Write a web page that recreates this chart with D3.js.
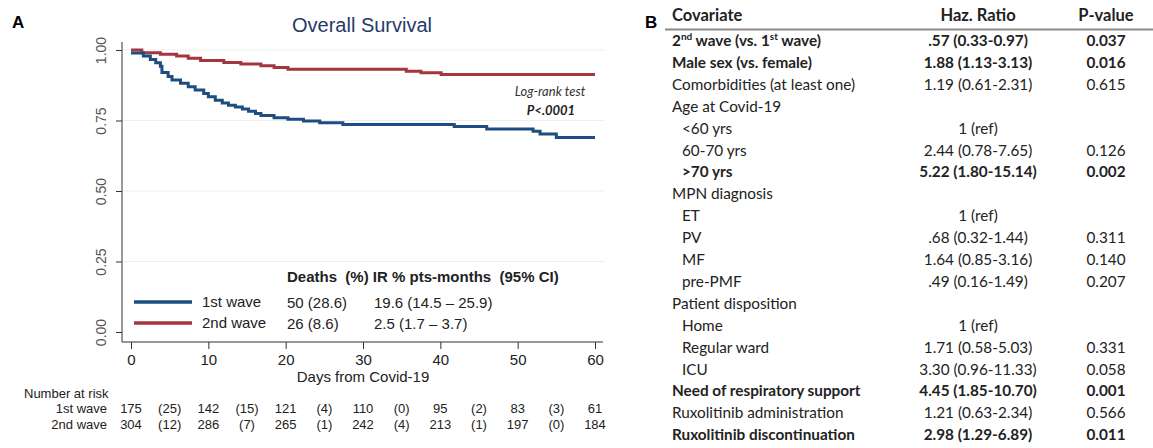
<!DOCTYPE html>
<html>
<head>
<meta charset="utf-8">
<script src="https://cdn.jsdelivr.net/npm/d3@7"></script>
<style>
  body { margin: 0; background: #fff; }
  svg { display: block; }
</style>
</head>
<body>
<div id="chart"></div>
<script>
// Overall survival (Kaplan-Meier) by wave + Cox model table

// survival steps: [day, survival after step]
const wave1Steps = [
    [0, 0.989], [1.6, 0.979], [2.5, 0.966], [3.2, 0.955], [3.8, 0.942], [4.0, 0.920],
    [4.8, 0.906], [5.3, 0.894], [6.4, 0.882], [7.4, 0.870], [8.3, 0.858], [9.4, 0.846],
    [10.0, 0.834], [10.9, 0.822], [11.8, 0.812], [12.6, 0.804], [13.5, 0.798], [14.4, 0.791],
    [15.2, 0.783], [16.1, 0.775], [16.8, 0.768], [18.5, 0.760], [20.3, 0.754], [22.3, 0.748],
    [24.4, 0.742], [27.4, 0.736], [41.8, 0.729], [46.0, 0.720], [52.0, 0.712], [52.9, 0.702],
    [55.0, 0.690], [60, 0.690]
];
const wave2Steps = [
    [0, 1.0], [1.4, 0.990], [3.8, 0.985], [5.9, 0.979], [7.4, 0.971], [9.0, 0.963],
    [12.0, 0.956], [14.2, 0.950], [16.8, 0.944], [18.5, 0.938], [20.3, 0.932], [35.6, 0.925],
    [37.5, 0.919], [40.1, 0.913], [60, 0.913]
];

const dayTicks = [0, 10, 20, 30, 40, 50, 60];
const survTicks = [0, 0.25, 0.5, 0.75, 1];

const waveNames = ['1st wave', '2nd wave'];
const waveDeaths = ['50 (28.6)', '26 (8.6)'];
const waveIR = ['19.6 (14.5 \u2013 25.9)', '2.5 (1.7 \u2013 3.7)'];

const atRiskWave1 = [175, 142, 121, 110, 95, 83, 61];
const eventsWave1 = [25, 15, 4, 0, 2, 3];
const atRiskWave2 = [304, 286, 265, 242, 213, 197, 184];
const eventsWave2 = [12, 7, 1, 4, 1, 0];

// Cox table
const covariates = [
    '2^nd wave (vs. 1^st wave)', 'Male sex (vs. female)', 'Comorbidities (at least one)',
    'Age at Covid-19', '<60 yrs', '60-70 yrs', '>70 yrs',
    'MPN diagnosis', 'ET', 'PV', 'MF', 'pre-PMF',
    'Patient disposition', 'Home', 'Regular ward', 'ICU',
    'Need of respiratory support', 'Ruxolitinib administration', 'Ruxolitinib discontinuation'
];
const covariateLevel = [0, 0, 0, 0, 1, 1, 1, 0, 1, 1, 1, 1, 0, 1, 1, 1, 0, 0, 0];
const hazRatios = [
    '.57 (0.33-0.97)', '1.88 (1.13-3.13)', '1.19 (0.61-2.31)',
    '', '1 (ref)', '2.44 (0.78-7.65)', '5.22 (1.80-15.14)',
    '', '1 (ref)', '.68 (0.32-1.44)', '1.64 (0.85-3.16)', '.49 (0.16-1.49)',
    '', '1 (ref)', '1.71 (0.58-5.03)', '3.30 (0.96-11.33)',
    '4.45 (1.85-10.70)', '1.21 (0.63-2.34)', '2.98 (1.29-6.89)'
];
const pValues = [
    '0.037', '0.016', '0.615', '', '', '0.126', '0.002',
    '', '', '0.311', '0.140', '0.207',
    '', '', '0.331', '0.058', '0.001', '0.566', '0.011'
];

const width = 1153, height = 448;
const blue = '#1d4e7f', red = '#a3363e';
const statFont = '"Liberation Sans", Arial, sans-serif';
const tableFont = 'Lato, "Open Sans", sans-serif';

const svg = d3.select('#chart').append('svg')
    .attr('width', width)
    .attr('height', height)
    .style('background', '#fff');

// ---------- Panel A ----------
const x = d3.scaleLinear().domain([0, 60]).range([131, 595]);
const y = d3.scaleLinear().domain([0, 1]).range([332, 50]);
const axisLeftX = 122, axisBottomY = 342;

svg.append('text')
    .attr('x', 12).attr('y', 28)
    .style('font-family', statFont).style('font-weight', 700).style('font-size', '17px')
    .text('A');

svg.append('text')
    .attr('x', 362).attr('y', 32)
    .attr('text-anchor', 'middle')
    .style('font-family', statFont).style('font-size', '20px')
    .style('fill', '#283a68')
    .text('Overall Survival');

// gridlines
svg.append('g').selectAll('line')
    .data(survTicks.filter(d => d > 0))
    .enter().append('line')
    .attr('x1', axisLeftX).attr('x2', 605)
    .attr('y1', d => y(d)).attr('y2', d => y(d))
    .attr('stroke', '#eeeeee').attr('stroke-width', 1);

// y axis
const yAxis = svg.append('g')
    .attr('transform', `translate(${axisLeftX},0)`)
    .call(d3.axisLeft(y).tickValues(survTicks).tickFormat(d3.format('.2f')).tickSize(6).tickSizeOuter(0));
yAxis.select('.domain').attr('d', `M0,42V${axisBottomY}`).attr('stroke', '#333');
yAxis.selectAll('.tick line').attr('stroke', '#333');
yAxis.selectAll('.tick text')
    .attr('transform', 'rotate(-90)')
    .attr('x', 0).attr('y', -16)
    .attr('dy', 0)
    .attr('text-anchor', 'middle')
    .style('font-family', statFont).style('font-size', '14px').style('fill', '#555');

// x axis
const xAxis = svg.append('g')
    .attr('transform', `translate(0,${axisBottomY})`)
    .call(d3.axisBottom(x).tickValues(dayTicks).tickSize(7).tickSizeOuter(0));
xAxis.select('.domain').attr('d', `M${axisLeftX},0H603`).attr('stroke', '#333');
xAxis.selectAll('.tick line').attr('stroke', '#333');
xAxis.selectAll('.tick text')
    .attr('y', 12)
    .style('font-family', statFont).style('font-size', '15px').style('fill', '#222');

svg.append('text')
    .attr('x', x(30)).attr('y', 382)
    .attr('text-anchor', 'middle')
    .style('font-family', statFont).style('font-size', '15px').style('fill', '#222')
    .text('Days from Covid-19');

// KM curves
const stepLine = d3.line()
    .x(d => x(d[0]))
    .y(d => y(d[1]))
    .curve(d3.curveStepAfter);

[[wave2Steps, red], [wave1Steps, blue]].forEach(([steps, color]) => {
    svg.append('path')
        .datum(steps)
        .attr('d', stepLine)
        .attr('fill', 'none')
        .attr('stroke', color)
        .attr('stroke-width', 3);
});

// log-rank annotation
svg.append('text')
    .attr('x', 550).attr('y', 96)
    .attr('text-anchor', 'middle')
    .style('font-family', tableFont).style('font-style', 'italic').style('font-size', '13px').style('fill', '#333')
    .text('Log-rank test');
svg.append('text')
    .attr('x', 551).attr('y', 115)
    .attr('text-anchor', 'middle')
    .style('font-family', tableFont).style('font-style', 'italic').style('font-weight', 700)
    .style('font-size', '13px').style('fill', '#222')
    .text('P<.0001');

// legend
const legendX = 134, colDeaths = 287, colIR = 374;
svg.append('text')
    .attr('x', colDeaths).attr('y', 282)
    .style('font-family', statFont).style('font-weight', 700).style('font-size', '15px').style('fill', '#222')
    .attr('xml:space', 'preserve')
    .text('Deaths  (%) IR % pts-months  (95% CI)');

const legendRows = svg.append('g').selectAll('g')
    .data(waveNames)
    .enter().append('g')
    .attr('transform', (d, i) => `translate(0,${302 + i * 21})`);
legendRows.append('line')
    .attr('x1', legendX).attr('x2', legendX + 58)
    .attr('stroke', (d, i) => i === 0 ? blue : red)
    .attr('stroke-width', 3.5);
legendRows.append('text')
    .attr('x', 202).attr('y', 5)
    .style('font-family', statFont).style('font-size', '15px').style('fill', '#222')
    .text(d => d);
legendRows.append('text')
    .attr('x', colDeaths).attr('y', 6)
    .style('font-family', statFont).style('font-size', '15px').style('fill', '#222')
    .text((d, i) => waveDeaths[i]);
legendRows.append('text')
    .attr('x', colIR).attr('y', 6)
    .style('font-family', statFont).style('font-size', '15px').style('fill', '#222')
    .text((d, i) => waveIR[i]);

// number at risk
const riskFont = g => g.style('font-family', statFont).style('font-size', '13px').style('fill', '#222');
svg.append('text').attr('x', 24).attr('y', 398).call(riskFont).text('Number at risk');

[[atRiskWave1, eventsWave1], [atRiskWave2, eventsWave2]].forEach(([risk, events], r) => {
    const ry = 413 + r * 16;
    svg.append('text').attr('x', 107).attr('y', ry).attr('text-anchor', 'end').call(riskFont).text(waveNames[r]);
    svg.append('g').selectAll('text')
        .data(risk).enter().append('text')
        .attr('x', (d, i) => x(dayTicks[i]))
        .attr('y', ry)
        .attr('text-anchor', 'middle')
        .call(riskFont)
        .text(d => d);
    svg.append('g').selectAll('text')
        .data(events).enter().append('text')
        .attr('x', (d, i) => x((dayTicks[i] + dayTicks[i + 1]) / 2))
        .attr('y', ry)
        .attr('text-anchor', 'middle')
        .call(riskFont)
        .text(d => `(${d})`);
});

// ---------- Panel B ----------
svg.append('text')
    .attr('x', 645).attr('y', 28)
    .style('font-family', statFont).style('font-weight', 700).style('font-size', '17px')
    .text('B');

const labelX = 672, hrX = 978, pX = 1106;
const headerY = 21, rowTop = 46, rowStep = 21.9;

const header = svg.append('g')
    .style('font-family', tableFont).style('font-weight', 700).style('font-size', '16.5px').style('fill', '#222');
header.append('text').attr('x', labelX).attr('y', headerY).text('Covariate');
header.append('text').attr('x', hrX).attr('y', headerY).attr('text-anchor', 'middle').text('Haz. Ratio');
header.append('text').attr('x', pX).attr('y', headerY).attr('text-anchor', 'middle').text('P-value');

svg.append('line')
    .attr('x1', 665).attr('x2', width)
    .attr('y1', 29.5).attr('y2', 29.5)
    .attr('stroke', '#8a8a8a').attr('stroke-width', 2);

const isSignificant = i => pValues[i] !== '' && +pValues[i] < 0.05;

const rows = svg.append('g').selectAll('g')
    .data(covariates)
    .enter().append('g')
    .attr('transform', (d, i) => `translate(0,${rowTop + i * rowStep})`)
    .style('font-family', tableFont).style('font-size', '15.3px').style('fill', '#222')
    .style('font-weight', (d, i) => isSignificant(i) ? 700 : 400);

// labels, with "^xx" marking a superscript
rows.append('text')
    .attr('x', (d, i) => labelX + covariateLevel[i] * 10)
    .each(function(d) {
        const t = d3.select(this);
        let shift = 0;
        d.split(/(\^\w+)/).filter(s => s).forEach(part => {
            if (part.startsWith('^')) {
                t.append('tspan').attr('dy', -6).style('font-size', '10px').text(part.slice(1));
                shift = 6;
            } else {
                t.append('tspan').attr('dy', shift).text(part);
                shift = 0;
            }
        });
    });

rows.append('text')
    .attr('x', hrX).attr('text-anchor', 'middle')
    .text((d, i) => hazRatios[i]);

rows.append('text')
    .attr('x', pX).attr('text-anchor', 'middle')
    .text((d, i) => pValues[i]);
</script>
</body>
</html>
